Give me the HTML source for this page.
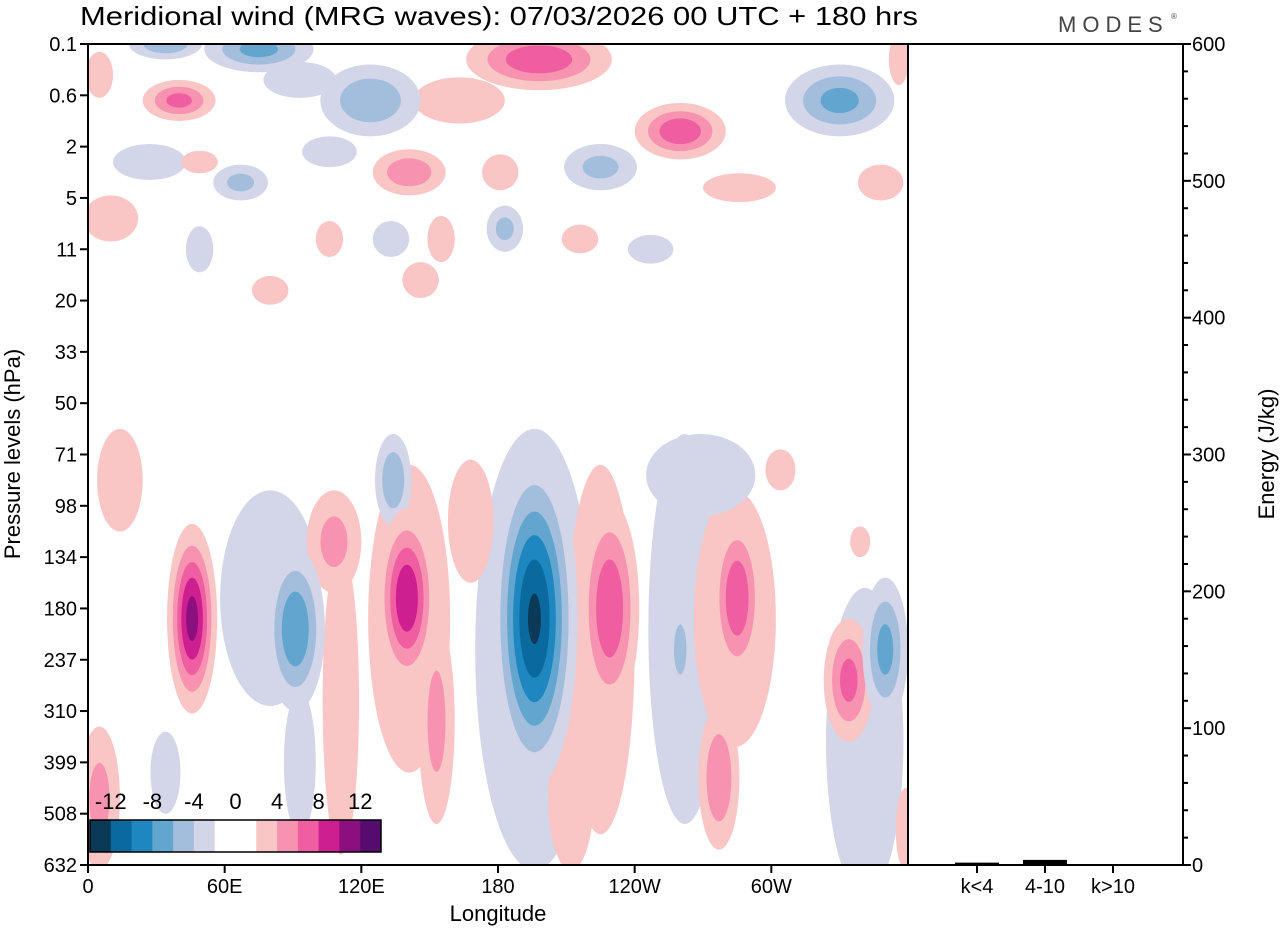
<!DOCTYPE html>
<html><head><meta charset="utf-8"><style>
html,body{margin:0;padding:0;background:#fff;}
svg{display:block;font-family:"Liberation Sans",sans-serif;}
</style></head><body>
<svg id="chart" width="1280" height="930" viewBox="0 0 1280 930">
<defs><clipPath id="plotclip"><rect x="88" y="44" width="820" height="821"/></clipPath></defs>
<text x="80" y="25" font-size="26" textLength="838" lengthAdjust="spacingAndGlyphs">Meridional wind (MRG waves):  07/03/2026  00 UTC  + 180 hrs</text>
<text x="1058" y="32" font-size="22" fill="#444" letter-spacing="6">MODES</text>
<text x="1171" y="19" font-size="8" fill="#444">®</text>
<g id="blobs" clip-path="url(#plotclip)"></g>
<g id="axes"></g>
</svg>
<script>
// Pressure level tick labels (evenly spaced index axis)
const levelLabels = ["0.1","0.6","2","5","11","20","33","50","71","98","134","180","237","310","399","508","632"];
const lonTicks = [0,60,120,180,240,300];
const lonTickLabels = ["0","60E","120E","180","120W","60W"];
const energyTicks = [0,100,200,300,400,500,600];
const energyCats = ["k<4","4-10","k>10"];
const energyVals = [1,3,0];
const legendLabels = ["-12","-8","-4","0","4","8","12"];
// contour blobs: lon centre (deg E), level centre (index), half-width (deg), half-height (levels), amplitude (m/s)
const blobLon = [80,45.7,91,93,108,111,141,140,134,153,196,196,225,229,262,269,260,284,285,277,334,341,350,14,5,34,212,168,304,339,359,
 40,34,75,124,163,93,198,260,330,225,141,67,106,5,27,49,10,183,155,133,106,181,216,247,146,80,49,348,356,286];
const blobLev = [10.8,11.2,11.4,14,9.7,12.8,11.2,10.8,8.5,13.2,11.8,11.2,11.8,11,11.4,8.4,11.8,11.2,10.8,14.3,12.4,13.6,11.8,8.5,14.7,14.2,14.7,9.3,8.3,9.7,15.3,
 1.1,0,0.1,1.1,1.1,0.7,0.3,1.7,1.1,2.4,2.5,2.7,2.1,0.6,2.3,2.3,3.4,3.6,3.8,3.8,3.8,2.5,3.8,4.0,4.6,4.8,4.0,2.7,0.3,2.8];
const blobW = [22,11,13,7,12,8,18,13,8,8,26,19,15,13,16,24,4.5,18,11,9,11,17,10,10,9,6.6,10,10,6.6,4.4,4.4,
 16,16,24,22,20,16,32,20,24,16,16,12,12,6,16,8,12,8,6,8,6,8,8,10,8,8,6,10,4.4,16];
const blobH = [2.1,1.85,1.6,1.4,1,3,3,1.75,0.9,2,4.3,3.3,3.6,2.1,3.8,0.8,0.8,2.5,1.6,1.4,1.2,3,1.4,1.0,1.4,0.8,1.4,1.2,0.4,0.3,0.8,
 0.4,0.3,0.45,0.7,0.45,0.35,0.6,0.55,0.7,0.45,0.45,0.35,0.3,0.45,0.35,0.22,0.45,0.45,0.45,0.35,0.35,0.35,0.28,0.28,0.35,0.28,0.45,0.35,0.5,0.28];
const blobAmp = [-4,11,-8,-3,5,3,3.5,10,-6,5,-3.5,-12.5,3.5,8,-3,-3,-6,3.5,8,6,7,-3,-7,3,5,-4,3,3,3,4,3,
 7,-6,-7,-6,3,-3,8,8,-7,-5,6,-5,-4,3,-3,3,3,-5,3,-3,3,3,3,-3,3,3,-3,3,4,3];

const X0=88,X1=908,Y0=44,Y1=865;
const xScale = lon => X0 + lon/360*(X1-X0);
const yScale = lev => Y0 + lev/16*(Y1-Y0);
const eScale = e => Y1 - e/600*(Y1-Y0);
const NS="http://www.w3.org/2000/svg";
const negCols=["#d3d5e8","#a3bedd","#62a6cf","#1f87c0","#0a6aa0","#0a3a58"];
const posCols=["#f9c5c5","#f793b0","#ef5ea0","#cd1f8f","#8c0f80","#560b6f"];
function mk(tag,attrs,parent){const e=document.createElementNS(NS,tag);for(const k in attrs)e.setAttribute(k,attrs[k]);parent.appendChild(e);return e;}

const gB=document.getElementById('blobs');
const order=blobAmp.map((a,i)=>i).sort((a,b)=>Math.abs(blobAmp[a])-Math.abs(blobAmp[b]));
const bigFirst=[0,10,12,14,5,6,17,21];
const ord=bigFirst.concat(order.filter(i=>!bigFirst.includes(i)));
ord.forEach(i=>{
  const A=Math.abs(blobAmp[i]); const cols=blobAmp[i]<0?negCols:posCols;
  const cx=xScale(blobLon[i]), cy=yScale(blobLev[i]);
  const rx=xScale(blobW[i])-xScale(0), ry=yScale(blobH[i])-yScale(0);
  for(let k=0;k<6;k++){
    const l=2+2*k; if(A<=l) break;
    const f=Math.sqrt(Math.log(A/l)/Math.log(A/2));
    const e=mk('ellipse',{cx:cx,cy:cy,rx:rx*f,ry:ry*f,fill:cols[k]},gB);
    
    
  }
});

const gA=document.getElementById('axes');
let r=mk('rect',{x:X0,y:Y0,width:X1-X0,height:Y1-Y0,fill:'none',stroke:'#000','stroke-width':2},gA);

r=mk('rect',{x:X1,y:Y0,width:1183-X1,height:Y1-Y0,fill:'none',stroke:'#000','stroke-width':2},gA);


levelLabels.forEach((lab,i)=>{
  const y=yScale(i);
  const t=mk('line',{x1:X0-8,x2:X0,y1:y,y2:y,stroke:'#000','stroke-width':2},gA);
  
  const tx=mk('text',{x:X0-11,y:y+7,'font-size':20,'text-anchor':'end'},gA);tx.textContent=lab;
  
});
lonTicks.forEach((lon,i)=>{
  const x=xScale(lon);
  const t=mk('line',{x1:x,x2:x,y1:Y1,y2:Y1+8,stroke:'#000','stroke-width':2},gA);
  
  const tx=mk('text',{x:x,y:Y1+28,'font-size':20,'text-anchor':'middle'},gA);tx.textContent=lonTickLabels[i];
  
});
let tt=mk('text',{x:498,y:921,'font-size':22,'text-anchor':'middle'},gA);tt.textContent='Longitude';

tt=mk('text',{x:0,y:0,'font-size':22,'text-anchor':'middle',transform:'translate(20,454) rotate(-90)'},gA);tt.textContent='Pressure levels (hPa)';


for(let e=0;e<=600;e+=20){
  const y=eScale(e); const major=e%100===0;
  const t=mk('line',{x1:1183,x2:1183+(major?8:5),y1:y,y2:y,stroke:'#000','stroke-width':2},gA);
  
}
energyTicks.forEach(e=>{
  const tx=mk('text',{x:1192,y:eScale(e)+7,'font-size':20},gA);tx.textContent=e;
  
});
tt=mk('text',{x:0,y:0,'font-size':22,'text-anchor':'middle',transform:'translate(1274,454) rotate(-90)'},gA);tt.textContent='Energy (J/kg)';

energyCats.forEach((c,i)=>{
  const x=977+68*i;
  const t=mk('line',{x1:x,x2:x,y1:Y1,y2:Y1+8,stroke:'#000','stroke-width':2},gA);
  
  const h=Math.max(0,Y1-eScale(energyVals[i]));
  const b=mk('rect',{x:x-22,y:Y1-h-1,width:44,height:h+1,fill:'#000'},gA);
  
  const tx=mk('text',{x:x,y:Y1+28,'font-size':20,'text-anchor':'middle'},gA);tx.textContent=c;
  
});

const legCols=negCols.slice().reverse().concat(["#ffffff","#ffffff"]).concat(posCols);
const cw=291/14;
legCols.forEach((c,i)=>{
  const rr=mk('rect',{x:90+i*cw,y:820,width:cw+0.5,height:32,fill:c},gA);
  
});
r=mk('rect',{x:90,y:820,width:291,height:32,fill:'none',stroke:'#000','stroke-width':1.5},gA);

legendLabels.forEach((l,i)=>{
  const x=90+cw*(1+2*i);
  const tx=mk('text',{x:x,y:809,'font-size':22,'text-anchor':'middle'},gA);tx.textContent=l;
  
});
</script>
</body></html>
